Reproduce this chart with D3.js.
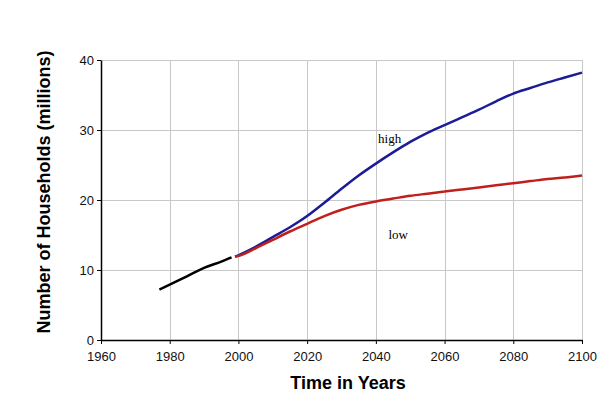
<!DOCTYPE html>
<meta charset="utf-8">
<style>
body { margin: 0; background: #fff; }
.grid line { stroke: #c8c8c8; stroke-width: 1; }
.axis text { font: 13px "Liberation Sans", Arial, sans-serif; fill: #111; }
.axis path, .axis line { stroke: #000; }
.title { font: bold 18px "Liberation Sans", Arial, sans-serif; fill: #000; }
.lab { font: 13px "Liberation Serif", "Times New Roman", serif; fill: #000; }
</style>
<svg width="600" height="397"></svg>
<script src="https://d3js.org/d3.v7.min.js"></script>
<script>

var xTicks = [1960, 1980, 2000, 2020, 2040, 2060, 2080, 2100];
var yTicks = [0, 10, 20, 30, 40];

var histYears = [1977, 1980, 1985, 1990, 1995, 1998];
var histValues = [7.2, 7.9, 9.1, 10.3, 11.2, 11.8];

var projYears = [1999, 2000, 2005, 2010, 2015, 2020, 2025, 2030, 2035, 2040, 2045,
                 2050, 2055, 2060, 2065, 2070, 2075, 2080, 2085, 2090, 2095, 2100];
var highValues = [11.9, 12.1, 13.3, 14.7, 16.1, 17.7, 19.6, 21.6, 23.5, 25.2, 26.8,
                  28.3, 29.6, 30.7, 31.8, 32.9, 34.1, 35.2, 36.0, 36.8, 37.5, 38.2];
var lowValues = [11.9, 12.0, 13.1, 14.3, 15.5, 16.6, 17.7, 18.6, 19.3, 19.8, 20.2,
                 20.6, 20.9, 21.2, 21.5, 21.8, 22.1, 22.4, 22.7, 23.0, 23.2, 23.5];

var svg = d3.select("svg");

var x = d3.scaleLinear().domain([1960, 2100]).range([101, 582]);
var y = d3.scaleLinear().domain([0, 40]).range([340, 60]);

// grid
var grid = svg.append("g").attr("class", "grid");
grid.selectAll(".v").data(xTicks.slice(1)).enter().append("line")
    .attr("x1", function(d) { return Math.round(x(d)) + 0.5; })
    .attr("x2", function(d) { return Math.round(x(d)) + 0.5; })
    .attr("y1", y(40)).attr("y2", y(0));
grid.selectAll(".h").data(yTicks.slice(1)).enter().append("line")
    .attr("x1", x(1960)).attr("x2", x(2100))
    .attr("y1", function(d) { return Math.round(y(d)) + 0.5; })
    .attr("y2", function(d) { return Math.round(y(d)) + 0.5; });

// axes
svg.append("g")
    .attr("class", "axis")
    .attr("transform", "translate(0," + y(0) + ")")
    .call(d3.axisBottom(x).tickValues(xTicks).tickFormat(d3.format("d")).tickSize(4).tickSizeOuter(0).tickPadding(8))
    .call(function(g) { g.select(".domain").attr("stroke-width", 1.5); });

svg.append("g")
    .attr("class", "axis")
    .attr("transform", "translate(" + x(1960) + ",0)")
    .call(d3.axisLeft(y).tickValues(yTicks).tickSize(4).tickSizeOuter(0).tickPadding(3))
    .call(function(g) { g.select(".domain").attr("stroke-width", 1.5); });

var line = d3.line()
    .x(function(d) { return x(d[0]); })
    .y(function(d) { return y(d[1]); })
    .curve(d3.curveMonotoneX);

svg.append("path")
    .datum(d3.zip(histYears, histValues))
    .attr("d", line)
    .attr("fill", "none").attr("stroke", "#000").attr("stroke-width", 2.5);

svg.append("path")
    .datum(d3.zip(projYears, highValues))
    .attr("d", line)
    .attr("fill", "none").attr("stroke", "#1c1c96").attr("stroke-width", 2.5);

svg.append("path")
    .datum(d3.zip(projYears, lowValues))
    .attr("d", line)
    .attr("fill", "none").attr("stroke", "#c0201c").attr("stroke-width", 2.5);

svg.append("text").attr("class", "lab")
    .attr("x", x(2044)).attr("y", y(28.1))
    .attr("text-anchor", "middle").text("high");
svg.append("text").attr("class", "lab")
    .attr("x", x(2046.5)).attr("y", y(14.4))
    .attr("text-anchor", "middle").text("low");

svg.append("text").attr("class", "title")
    .attr("x", 348).attr("y", 389)
    .attr("text-anchor", "middle")
    .text("Time in Years");

svg.append("text").attr("class", "title")
    .attr("transform", "translate(50,192) rotate(-90)")
    .attr("text-anchor", "middle")
    .text("Number of Households (millions)");

</script>
